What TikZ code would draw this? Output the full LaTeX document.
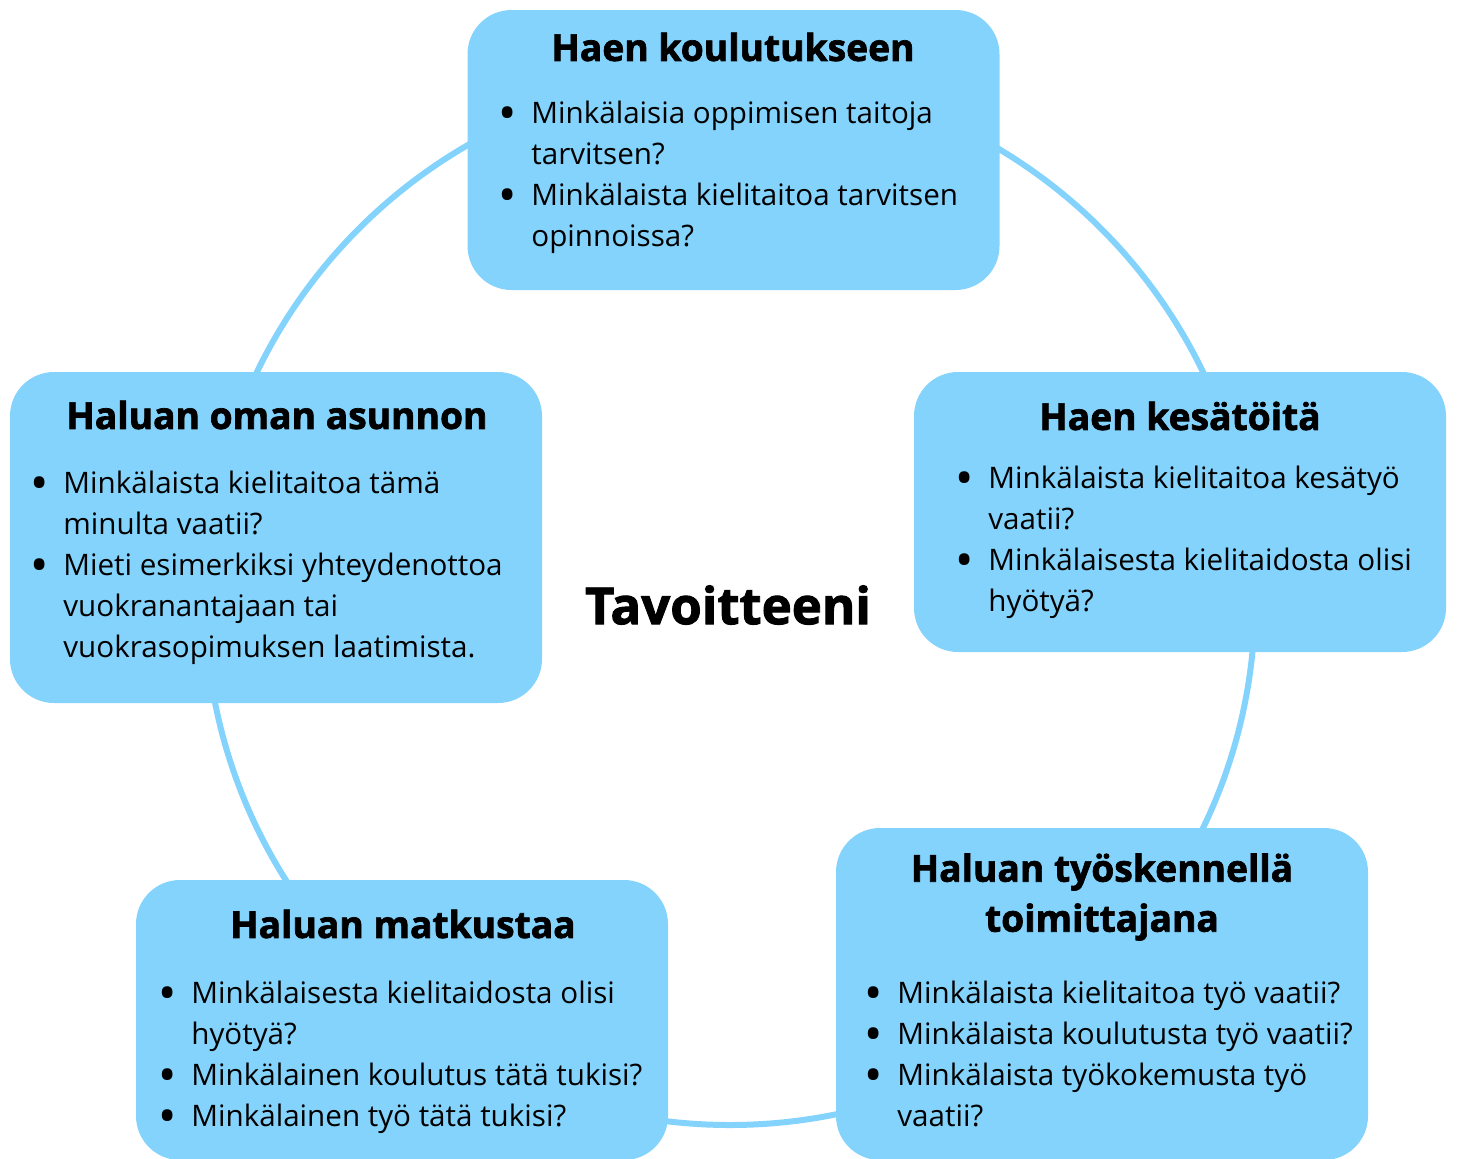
\documentclass[tikz,border=0pt]{standalone}
\usepackage{fontspec}
\setmainfont{Open Sans}
\newfontfamily\paksu{Open Sans}[BoldFeatures={FakeBold=1.8}]
\usetikzlibrary{positioning}

\definecolor{tavoite}{RGB}{132,211,252}
\newcommand{\kohta}{\llap{\raisebox{-1.4pt}{\fontsize{19}{19}\selectfont\bfseries •}\hspace{8.5pt}}}

\begin{document}
\begin{tikzpicture}[x=0.5pt, y=-0.5pt,
    box/.style={rectangle, rounded corners=22pt, fill=tavoite, minimum width=266pt, inner sep=0pt},
    hd/.style={font=\paksu\fontsize{18.6}{25}\selectfont\bfseries, align=center},
    lista/.style={font=\fontsize{14.8}{20.5}\selectfont, align=left, anchor=north west, inner sep=0pt},
    ring/.style={draw=tavoite, line width=3pt}
]
\useasboundingbox (0,0) rectangle (1457,1158);

% Circle behind the boxes
\draw[ring] (730,600) circle (262.5pt);

% Centre title
\node[font=\paksu\fontsize{25.5}{30}\selectfont\bfseries] (tavoitteeni) at (728,605) {Tavoitteeni};

% Top: studies
\node[box, minimum height=140pt] (koulutus) at (733.5,150) {};
\node[hd] (koulutusOts) at (733,47) {Haen koulutukseen};
\node[lista] (koulutusLista) at (531,101) {\kohta Minkälaisia oppimisen taitoja\\tarvitsen?\\\kohta Minkälaista kielitaitoa tarvitsen\\opinnoissa?};

% Left: own flat
\node[box, minimum height=165.5pt] (asunto) at (276,537.5) {};
\node[hd] (asuntoOts) at (277,415) {Haluan oman asunnon};
\node[lista] (asuntoLista) at (63,471) {\kohta Minkälaista kielitaitoa tämä\\minulta vaatii?\\\kohta Mieti esimerkiksi yhteydenottoa\\vuokranantajaan tai\\vuokrasopimuksen laatimista.};

% Right: summer job
\node[box, minimum height=140pt] (kesatyo) at (1180,512) {};
\node[hd] (kesatyoOts) at (1180,416) {Haen kesätöitä};
\node[lista] (kesatyoLista) at (988,466) {\kohta Minkälaista kielitaitoa kesätyö\\vaatii?\\\kohta Minkälaisesta kielitaidosta olisi\\hyötyä?};

% Bottom left: travel
\node[box, minimum height=140pt] (matka) at (402,1020) {};
\node[hd] (matkaOts) at (403,924) {Haluan matkustaa};
\node[lista] (matkaLista) at (191,981) {\kohta Minkälaisesta kielitaidosta olisi\\hyötyä?\\\kohta Minkälainen koulutus tätä tukisi?\\\kohta Minkälainen työ tätä tukisi?};

% Bottom right: editor work
\node[box, minimum height=166pt] (toimittaja) at (1102,994) {};
\node[hd] (toimittajaOts) at (1102,897) {Haluan työskennellä\\toimittajana};
\node[lista] (toimittajaLista) at (897,981) {\kohta Minkälaista kielitaitoa työ vaatii?\\\kohta Minkälaista koulutusta työ vaatii?\\\kohta Minkälaista työkokemusta työ\\vaatii?};

\end{tikzpicture}
\end{document}
